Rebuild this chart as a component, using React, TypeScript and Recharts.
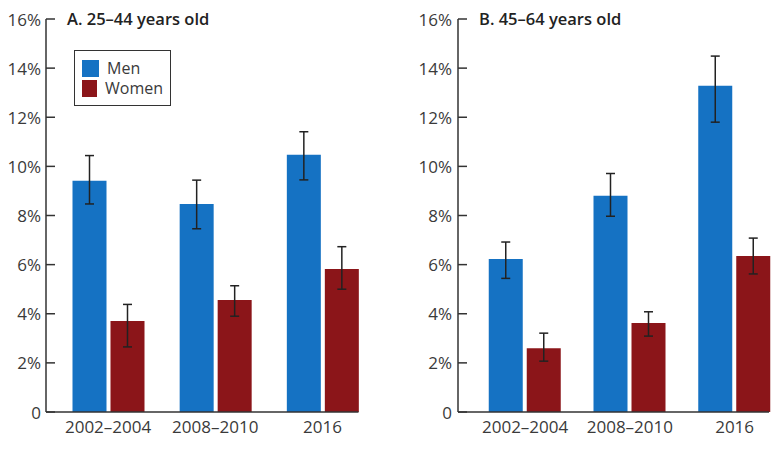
import React from "react";
import { BarChart, Bar, XAxis, YAxis, ErrorBar } from "recharts";

const periods = ["2002–2004", "2008–2010", "2016"];
const yTicks = [0, 2, 4, 6, 8, 10, 12, 14, 16];

// A. 25–44 years old
const menA = [9.41, 8.47, 10.47];
const menALow = [8.47, 7.46, 9.45];
const menAHigh = [10.44, 9.44, 11.41];
const womenA = [3.7, 4.56, 5.82];
const womenALow = [2.65, 3.9, 5.0];
const womenAHigh = [4.38, 5.14, 6.73];

// B. 45–64 years old
const menB = [6.23, 8.8, 13.28];
const menBLow = [5.44, 7.97, 11.8];
const menBHigh = [6.92, 9.71, 14.49];
const womenB = [2.6, 3.62, 6.35];
const womenBLow = [2.07, 3.09, 5.62];
const womenBHigh = [3.21, 4.08, 7.08];

const BLUE = "#1572c3";
const RED = "#8b1519";
const INK = "#333";
const FONT = "'Open Sans', sans-serif";

function rows(men: number[], menLo: number[], menHi: number[], women: number[], womenLo: number[], womenHi: number[]) {
  return periods.map((period, i) => ({
    period,
    men: men[i],
    menErr: [men[i] - menLo[i], menHi[i] - men[i]],
    women: women[i],
    womenErr: [women[i] - womenLo[i], womenHi[i] - women[i]],
  }));
}

const dataA = rows(menA, menALow, menAHigh, womenA, womenALow, womenAHigh);
const dataB = rows(menB, menBLow, menBHigh, womenB, womenBLow, womenBHigh);

function makeYTick(axisX: number, gap: number) {
  return (props: any) => {
    const { y, payload } = props;
    const v = payload.value;
    return (
      <g>
        <line x1={axisX} x2={axisX + 9} y1={y} y2={y} stroke={INK} strokeWidth={1.5} />
        <text
          x={axisX - gap}
          y={y}
          textAnchor="end"
          dominantBaseline="central"
          fill="#3a3a3a"
          fontSize={17}
          fontFamily={FONT}
        >
          {v === 0 ? "0" : `${v}%`}
        </text>
      </g>
    );
  };
}

function LegendBox() {
  const item = (color: string, label: string) => (
    <div style={{ display: "flex", alignItems: "center", height: 20 }}>
      <div style={{ width: 17, height: 17, background: color, marginRight: 8 }} />
      <span style={{ fontSize: 16, color: "#3a3a3a", fontFamily: FONT, lineHeight: "18px" }}>{label}</span>
    </div>
  );
  return (
    <div
      style={{
        position: "absolute",
        left: 74,
        top: 50,
        boxSizing: "border-box",
        border: "1.5px solid #333",
        width: 97,
        height: 56,
        padding: "7px 7px",
        background: "#fff",
      }}
    >
      {item(BLUE, "Men")}
      {item(RED, "Women")}
    </div>
  );
}

function Panel({
  data,
  title,
  width,
  axisWidth,
  padLeft,
  axisLen,
  gap,
  legend,
}: {
  data: any[];
  title: string;
  width: number;
  axisWidth: number;
  padLeft: number;
  axisLen: number;
  gap: number;
  legend?: boolean;
}) {
  return (
    <div style={{ position: "relative", width, height: 458 }}>
      <BarChart
        width={width}
        height={458}
        data={data}
        margin={{ top: 19, right: 0, left: 0, bottom: 16 }}
        barSize={34}
        barGap={4}
      >
        <XAxis
          dataKey="period"
          padding={{ left: padLeft, right: 0 }}
          axisLine={{ stroke: INK, strokeWidth: 1.5, strokeDasharray: `${axisLen} 1000` }}
          tickLine={false}
          tickSize={0}
          tickMargin={9}
          height={30}
          tick={{ fill: "#3a3a3a", fontSize: 17, fontFamily: FONT }}
        />
        <YAxis
          width={axisWidth}
          domain={[0, 16]}
          ticks={yTicks}
          interval={0}
          axisLine={{ stroke: INK, strokeWidth: 1.5 }}
          tickLine={false}
          tick={makeYTick(axisWidth, gap)}
        />
        <Bar dataKey="men" fill={BLUE} isAnimationActive={false}>
          <ErrorBar dataKey="menErr" width={4.5} stroke="#222" strokeWidth={1.5} />
        </Bar>
        <Bar dataKey="women" fill={RED} isAnimationActive={false}>
          <ErrorBar dataKey="womenErr" width={4.5} stroke="#222" strokeWidth={1.5} />
        </Bar>
      </BarChart>
      <div
        style={{
          position: "absolute",
          left: axisWidth + 21,
          top: 8,
          fontFamily: FONT,
          fontWeight: 600,
          fontSize: 16.5,
          color: "#222",
          whiteSpace: "nowrap",
          lineHeight: "22px",
        }}
      >
        {title}
      </div>
      {legend && <LegendBox />}
    </div>
  );
}

export default function App() {
  return (
    <div
      style={{
        position: "absolute",
        left: 0,
        top: 0,
        width: 773,
        height: 458,
        overflow: "hidden",
        background: "#fff",
      }}
    >
      <div style={{ position: "absolute", left: 0, top: 0 }}>
        <Panel
          data={dataA}
          title="A. 25–44 years old"
          width={376}
          axisWidth={46}
          padLeft={8.5}
          axisLen={312.5}
          gap={5}
          legend
        />
      </div>
      <div style={{ position: "absolute", left: 390, top: 0 }}>
        <Panel
          data={dataB}
          title="B. 45–64 years old"
          width={397}
          axisWidth={68}
          padLeft={14.75}
          axisLen={311}
          gap={6}
        />
      </div>
    </div>
  );
}
